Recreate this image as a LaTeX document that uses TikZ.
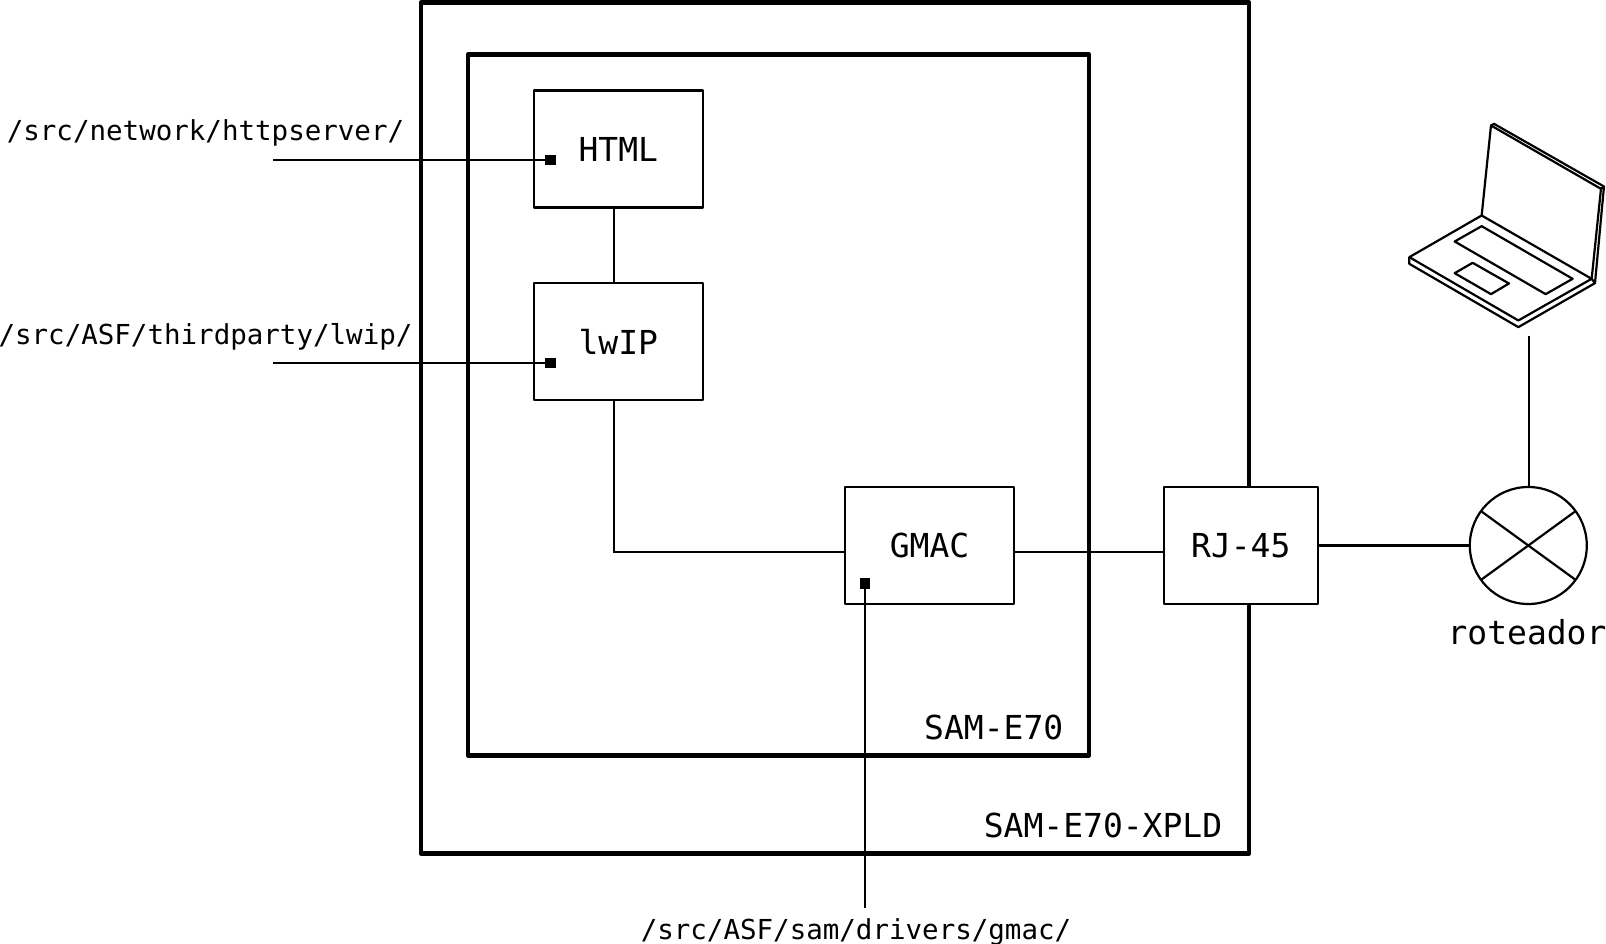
\documentclass[tikz,border=0pt]{standalone}
\usepackage{fontspec}
\setmainfont{DejaVu Sans Mono}
\usetikzlibrary{calc}
\newcommand{\biglabel}{\fontsize{33}{36}\selectfont}
\newcommand{\smalllabel}{\fontsize{27.5}{32}\selectfont}
\tikzset{
  frame/.style={draw=black,line width=4.5pt,line join=round,outer sep=0pt,inner sep=0pt},
  block/.style={draw=black,fill=white,line width=2.2pt,line join=round,outer sep=0pt,inner sep=0pt,font=\biglabel},
  wire/.style={draw=black,line width=2.2pt},
  pin/.style={fill=black,draw=none,minimum width=10.5pt,minimum height=10.5pt,inner sep=0pt,outer sep=0pt},
  biglab/.style={font=\biglabel,anchor=base,inner sep=0pt,outer sep=0pt},
  smalllab/.style={font=\smalllabel,anchor=base,inner sep=0pt,outer sep=0pt},
  laptopline/.style={draw=black,line width=2.2pt,line join=round}
}
\begin{document}
\begin{tikzpicture}[x=1pt,y=-1pt]
\useasboundingbox (0,0) rectangle (1606,944);
% frames
\node[frame,minimum width=828pt,minimum height=851pt] (xpld) at (835,428) {};
\node[frame,minimum width=621pt,minimum height=700.5pt] (sam) at (778.5,405) {};
% blocks
\node[block,minimum width=169pt,minimum height=117pt] (html) at (618.3,149) {HTML};
\node[block,minimum width=169pt,minimum height=117pt] (lwip) at (618.3,341.5) {lwIP};
\node[block,minimum width=169pt,minimum height=117pt] (gmac) at (929.5,545.5) {GMAC};
\node[block,minimum width=154pt,minimum height=117pt] (rj) at (1240.8,545.5) {RJ-45};
\node[block,circle,minimum size=117pt] (router) at (1528.3,545.5) {};
% labels
\node[biglab] (samlab) at (993.7,739) {SAM-E70};
\node[biglab] (xpldlab) at (1103,837) {SAM-E70-XPLD};
\node[biglab] (routerlab) at (1527,644) {roteador};
\node[smalllab] (l1) at (205.5,141) {/src/network/httpserver/};
\node[smalllab] (l2) at (205.5,344.5) {/src/ASF/thirdparty/lwip/};
\node[smalllab] (l3) at (856,939) {/src/ASF/sam/drivers/gmac/};
% pins
\node[pin] (p1) at (550.3,160) {};
\node[pin] (p2) at (550.3,363) {};
\node[pin,minimum height=11pt] (p3) at (865,583.5) {};
% free ends
\coordinate (f1) at (273,160);
\coordinate (f2) at (273,363);
\coordinate (f3) at (865,908);
\coordinate (f4) at (1528.8,335.5);
\coordinate (v1) at (614.3,0);
\coordinate (h1) at (0,552.3);
% connectors
\draw[wire] (f1) -- (p1);
\draw[wire] (f2) -- (p2);
\draw[wire] (f3) -- (p3);
\draw[wire] (html.south -| v1) -- (lwip.north -| v1);
\draw[wire] (lwip.south -| v1) |- (gmac.west |- h1);
\draw[wire] (gmac.east |- h1) -- (rj.west |- h1);
\draw[wire] (rj.east) -- (router.west);
\draw[wire] (f4) -- (f4 |- router.north);
\draw[wire] (router.36) -- (router.216);
\draw[wire] (router.144) -- (router.324);
% laptop
\begin{scope}[shift={(1380,100.5)},x=0.3333pt,y=-0.3333pt]
\draw[laptopline] (305,345) -- (88,470) -- (415,660) -- (635,535) -- cycle;
\draw[laptopline] (88,470) -- (88,490) -- (415,680) -- (645,548) -- (635,535);
\draw[laptopline] (305,345) -- (333,75) -- (663,265) -- (635,535);
\draw[laptopline] (333,75) -- (342,70) -- (672,258) -- (663,265);
\draw[laptopline] (672,258) -- (645,548);
\draw[laptopline] (305,377) -- (578,535) -- (497,581) -- (224,423) -- cycle;
\draw[laptopline] (278,487) -- (387,549) -- (333,581) -- (224,518) -- cycle;
\end{scope}
\end{tikzpicture}
\end{document}
